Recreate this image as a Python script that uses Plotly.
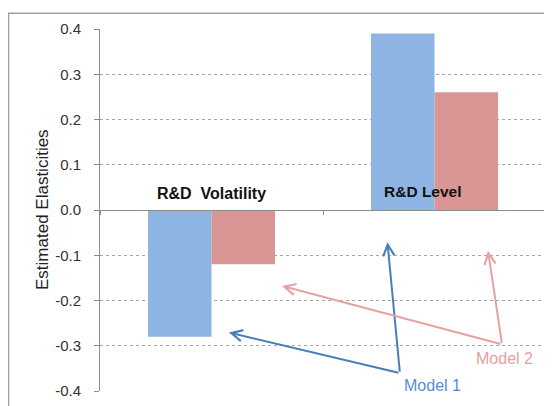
import plotly.graph_objects as go

categories = ["R&D Volatility", "R&D Level"]
model1 = [-0.28, 0.39]
model2 = [-0.12, 0.26]
series_names = ["Model 1", "Model 2"]
y_ticks = [-0.4, -0.3, -0.2, -0.1, 0.0, 0.1, 0.2, 0.3, 0.4]
y_tick_text = [f"{v:.1f}" for v in y_ticks]

BLUE = "#8EB4E3"
RED = "#D99694"
ARROW_BLUE = "#4A7EBB"
ARROW_RED = "#E6A2A0"
FONT = "Liberation Sans"

fig = go.Figure()
fig.add_trace(go.Bar(x=categories, y=model1, name=series_names[0], marker=dict(color=BLUE, line=dict(width=0))))
fig.add_trace(go.Bar(x=categories, y=model2, name=series_names[1], marker=dict(color=RED, line=dict(width=0))))

# page body has an 8px margin; compensate so the plot area lands at (100,26)-(546,391)
fig.update_layout(
    width=552, height=406,
    margin=dict(l=92, r=14, t=18, b=23),
    paper_bgcolor="white", plot_bgcolor="white",
    barmode="group", bargap=0.43, bargroupgap=0,
    showlegend=False,
    font=dict(family=FONT, color="#222222"),
)
fig.update_xaxes(
    type="category", anchor="free", position=0.5,
    showline=True, linecolor="#8C8C8C", linewidth=1,
    ticks="outside", tickson="boundaries", ticklen=4, tickcolor="#8C8C8C",
    showticklabels=False, showgrid=False, zeroline=False,
)
fig.update_yaxes(
    range=[-0.4, 0.4], tickvals=y_ticks, ticktext=y_tick_text,
    showline=True, linecolor="#8C8C8C", linewidth=1,
    ticks="outside", ticklen=5, tickcolor="#8C8C8C",
    ticklabelstandoff=10,
    tickfont=dict(size=15, color="#333333"),
    showgrid=True, gridcolor="#A6A6A6", griddash="dot", gridwidth=1,
    zeroline=False,
)

# outer frame (page x=8, y=10)
fig.add_shape(type="rect", xref="paper", yref="paper",
              x0=(0.5 - 92) / 446, x1=1.3, y0=-0.3, y1=(406 - 23 - 2) / 365,
              line=dict(color="#A0A0A0", width=1.5), fillcolor="rgba(0,0,0,0)", layer="below")

# y-axis title
fig.add_annotation(text="Estimated Elasticities", xref="paper", yref="paper",
                   x=(42 - 100) / 446, y=0.5, xanchor="center", yanchor="middle",
                   textangle=-90, showarrow=False,
                   font=dict(size=17, color="#222222"))

# category labels
fig.add_annotation(text="<b>R&D  Volatility</b>", x=0, y=0.037, xref="x", yref="y",
                   showarrow=False, font=dict(size=16, color="#111111"))
fig.add_annotation(text="<b>R&D Level</b>", x=1, y=0.041, xref="x", yref="y", xshift=-12,
                   showarrow=False, font=dict(size=15.5, color="#111111"))

# arrows
arrows = [
    (0.845, -0.3605, 0.078, -0.2707, ARROW_BLUE),
    (0.845, -0.3605, 0.789, -0.0712, ARROW_BLUE),
    (1.303, -0.297, 0.316, -0.1677, ARROW_RED),
    (1.303, -0.297, 1.240, -0.0899, ARROW_RED),
]
for ax_, ay_, x_, y_, c in arrows:
    fig.add_annotation(text="", x=x_, y=y_, ax=ax_, ay=ay_, xref="x", yref="y",
                       axref="x", ayref="y", showarrow=True, arrowhead=5,
                       arrowsize=1.1, arrowwidth=2, arrowcolor=c)

fig.add_annotation(text="Model 1", x=0.993, y=-0.387, xref="x", yref="y",
                   showarrow=False, font=dict(size=16, color="#558ED5"))
fig.add_annotation(text="Model 2", x=1.316, y=-0.328, xref="x", yref="y",
                   showarrow=False, font=dict(size=16, color="#E6A2A0"))

fig.write_html("out.html")
